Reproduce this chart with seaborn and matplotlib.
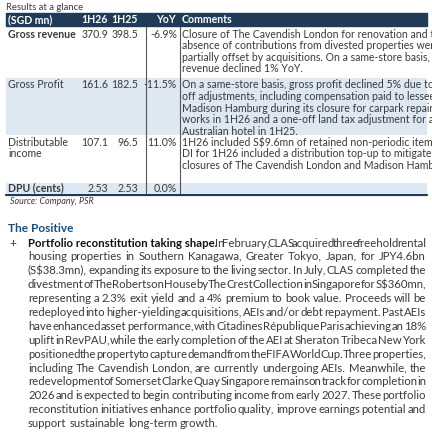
import matplotlib
matplotlib.use("Agg")
import matplotlib.pyplot as plt
import seaborn as sns
from matplotlib.patches import Rectangle

sns.set_theme(style="white")
plt.rcParams['font.family'] = ['Lato', 'DejaVu Sans']

title = "Results at a glance"
headers = ["(SGD mn)", "1H26", "1H25", "YoY", "Comments"]
row_labels = [["Gross revenue"], ["Gross Profit"], ["Distributable", "income"], ["DPU (cents)"]]
row_bold = [True, False, False, True]
v_1h26 = ["370.9", "161.6", "107.1", "2.53"]
v_1h25 = ["398.5", "182.5", "96.5", "2.53"]
v_yoy = ["-6.9%", "-11.5%", "11.0%", "0.0%"]
comments = [
    ["Closure of The Cavendish London for renovation and the",
     "absence of contributions from divested properties were",
     "partially offset by acquisitions. On a same-store basis,",
     "revenue declined 1% YoY."],
    ["On a same-store basis, gross profit declined 5% due to one-",
     "off adjustments, including compensation paid to lessees at",
     "Madison Hamburg during its closure for carpark repair",
     "works in 1H26 and a one-off land tax adjustment for an",
     "Australian hotel in 1H25."],
    ["1H26 included S$9.6mn of retained non-periodic items. Core",
     "DI for 1H26 included a distribution top-up to mitigate the",
     "closures of The Cavendish London and Madison Hamburg."],
    [],
]
source = "Source: Company, PSR"
section = "The Positive"
para_lead = "Portfolio reconstitution taking shape."
para_lines = [
    " In February, CLAS acquired three freehold rental",
    "housing properties in Southern Kanagawa, Greater Tokyo, Japan, for JPY4.6bn",
    "(S$38.3mn), expanding its exposure to the living sector. In July, CLAS completed the",
    "divestment of The Robertson House by The Crest Collection in Singapore for S$360mn,",
    "representing a 2.3% exit yield and a 4% premium to book value. Proceeds will be",
    "redeployed into higher-yielding acquisitions, AEIs and/or debt repayment. Past AEIs",
    "have enhanced asset performance, with Citadines République Paris achieving an 18%",
    "uplift in RevPAU, while the early completion of the AEI at Sheraton Tribeca New York",
    "positioned the property to capture demand from the FIFA World Cup. Three properties,",
    "including The Cavendish London, are currently undergoing AEIs. Meanwhile, the",
    "redevelopment of Somerset Clarke Quay Singapore remains on track for completion in",
    "2026 and is expected to begin contributing income from early 2027. These portfolio",
    "reconstitution initiatives enhance portfolio quality, improve earnings potential and",
    "support sustainable long-term growth.",
]

W, H = 432, 444
fig = plt.figure(figsize=(W/100, H/100), dpi=100)
ax = fig.add_axes([0, 0, 1, 1])
ax.set_xlim(0, W); ax.set_ylim(H, 0); ax.axis("off")

navy = "#1f3b57"
lightblue = "#dde8f3"
txt = "#3a3a3a"
fs = 7.6

ax.text(6, 8, title, fontsize=6.8, color=txt, va="center")
ax.add_patch(Rectangle((6, 13), 421, 13, color=navy))
hx = [8, 108, 138, 176, 182]
ha = ["left", "right", "right", "right", "left"]
for x, h, a in zip(hx, headers, ha):
    ax.text(x, 19.5, h, color="white", fontsize=fs, fontweight="bold", ha=a, va="center")

row_top = [27, 78, 135, 183]
row_bot = [78, 135, 181, 193]
line_h = 11.6
for i in range(4):
    if i % 2 == 1:
        ax.add_patch(Rectangle((6, row_top[i]), 421, row_bot[i]-row_top[i], color=lightblue, lw=0))
    y0 = row_top[i] + (7 if i < 3 else 5)
    for k, lab in enumerate(row_labels[i]):
        ax.text(8, y0 + k*line_h, lab, fontsize=fs, color=txt,
                fontweight="bold" if row_bold[i] else "normal", va="center")
    ax.text(108, y0, v_1h26[i], fontsize=fs, color=txt, ha="right", va="center")
    ax.text(138, y0, v_1h25[i], fontsize=fs, color=txt, ha="right", va="center")
    ax.text(177, y0, v_yoy[i], fontsize=fs, color=txt, ha="right", va="center")
    for k, c in enumerate(comments[i]):
        ax.text(182, y0 + k*line_h, c, fontsize=fs, color=txt, va="center")
ax.plot([146, 146], [27, 193], color="#555555", lw=0.8)
ax.plot([179.5, 179.5], [27, 193], color="#555555", lw=0.8)
ax.plot([6, 427], [194.5, 194.5], color=navy, lw=1.6)

ax.text(10, 201, source, fontsize=6.4, color=txt, style="italic", va="center")
ax.text(8, 228, section, fontsize=8.6, color="#1f4e79", fontweight="bold", va="center")
ax.text(9, 243, "+", fontsize=8.4, color=txt, va="center")

fig.canvas.draw()
r = fig.canvas.get_renderer()

def width_of(t):
    return t.get_window_extent(r).width * (W / fig.bbox.width)

left, right = 28, 426
pfs = 8.2
t1 = ax.text(50, 300, "a a", fontsize=pfs)
t2 = ax.text(50, 300, "aa", fontsize=pfs)
space_w = width_of(t1) - width_of(t2)
t1.remove(); t2.remove()

y = 243
dy = 13.9
for li, line in enumerate(para_lines):
    items = []
    if li == 0:
        items.append((para_lead, True))
    items += [(w, False) for w in line.split()]
    last = li == len(para_lines) - 1
    arts = []
    for w, b in items:
        t = ax.text(left, y, w, fontsize=pfs, color="#111111" if b else txt,
                    fontweight="bold" if b else "normal", va="center")
        arts.append(t)
    ws = [width_of(t) for t in arts]
    sp = space_w
    if not last and len(arts) > 1:
        sp = (right - left - sum(ws)) / (len(arts) - 1)
    x = left
    for t, w in zip(arts, ws):
        t.set_x(x)
        x += w + sp
    y += dy

fig.savefig("out.png", dpi=100)
